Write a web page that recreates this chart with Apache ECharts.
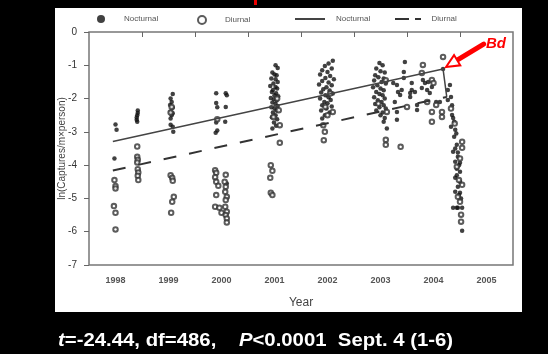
<!DOCTYPE html>
<html>
<head>
<meta charset="utf-8">
<script src="https://cdn.jsdelivr.net/npm/echarts@6/dist/echarts.min.js"></script>
<style>
html, body { margin: 0; padding: 0; background: #000; }
#chart { width: 548px; height: 354px; }
</style>
</head>
<body>
<div id="chart"></div>
<script>
// axis labels / ticks
var yearLabels = [1998, 1999, 2000, 2001, 2002, 2003, 2004, 2005];
var yearTicks = [1998.5, 1999.5, 2000.5, 2001.5, 2002.5, 2003.5, 2004.5];

// nocturnal captures (filled dots), [year, ln value]
var noct1998 = [[1998.0,-2.78],[1998.02,-2.94],[1997.98,-3.8]];
var noct1998b = [[1998.42,-2.36],[1998.42,-2.43],[1998.41,-2.5],[1998.4,-2.57],[1998.4,-2.64],[1998.41,-2.7]];
var noct1999 = [[1999.08,-1.86],[1999.04,-2.0],[1999.06,-2.1],[1999.03,-2.19],[1999.08,-2.27],[1999.04,-2.4],[1999.08,-2.44],[1999.06,-2.5],[1999.04,-2.6],[1999.04,-2.79],[1999.08,-2.85],[1999.09,-3.0]];
var noct1999b = [[1999.9,-1.84],[1999.9,-2.13],[1999.92,-2.26],[1999.9,-2.72],[1999.92,-2.96],[1999.89,-3.03]];
var noct2000 = [[2000.08,-1.84],[2000.1,-1.9],[2000.08,-2.25],[2000.07,-2.7],[2000.1,-4.55]];
var noct2001 = [[2001.02,-1.0],[2001.06,-1.08],[2000.96,-1.22],[2001.0,-1.28],[2001.04,-1.3],[2000.94,-1.4],[2001.02,-1.42],[2001.06,-1.5],[2000.98,-1.55],[2000.92,-1.62],[2001.02,-1.65],[2001.05,-1.7],[2000.97,-1.74],[2000.95,-1.8],[2001.03,-1.84],[2001.0,-1.9],[2001.07,-1.93],[2000.93,-1.98],[2000.99,-2.02],[2001.04,-2.06],[2000.96,-2.12],[2001.02,-2.16],[2001.06,-2.22],[2000.94,-2.26],[2001.0,-2.3],[2001.04,-2.36],[2000.97,-2.42],[2001.02,-2.5],[2000.95,-2.56],[2001.05,-2.62],[2000.99,-2.72],[2001.03,-2.82],[2000.96,-2.9]];
var noct2002 = [[2002.1,-0.86],[2002.02,-0.95],[2001.95,-1.02],[2002.08,-1.1],[2001.9,-1.15],[2002.0,-1.2],[2001.86,-1.28],[2002.05,-1.32],[2001.96,-1.38],[2002.12,-1.42],[2001.9,-1.47],[2002.02,-1.52],[2001.84,-1.58],[2002.08,-1.6],[2001.98,-1.66],[2001.92,-1.72],[2002.04,-1.76],[2001.88,-1.82],[2002.1,-1.85],[2001.96,-1.9],[2002.02,-1.96],[2001.86,-2.0],[2002.06,-2.04],[2001.94,-2.1],[2002.0,-2.14],[2001.9,-2.2],[2002.08,-2.24],[2001.98,-2.3],[2001.88,-2.36],[2002.04,-2.42],[2001.95,-2.5],[2001.9,-2.6]];
var noct2003 = [[2002.98,-0.93],[2003.04,-1.0],[2002.92,-1.1],[2003.0,-1.18],[2003.08,-1.22],[2002.9,-1.3],[2002.96,-1.36],[2003.06,-1.4],[2002.88,-1.46],[2003.02,-1.5],[2003.1,-1.55],[2002.94,-1.6],[2002.86,-1.66],[2003.0,-1.7],[2003.06,-1.75],[2002.92,-1.8],[2002.98,-1.86],[2003.04,-1.9],[2002.88,-1.96],[2003.08,-2.0],[2002.95,-2.05],[2003.02,-2.1],[2002.9,-2.16],[2003.06,-2.2],[2002.98,-2.26],[2003.1,-2.3],[2002.92,-2.36],[2003.04,-2.42],[2003.0,-2.5],[2003.08,-2.58],[2003.06,-2.7],[2003.12,-2.9]];
var noct2004 = [[2003.46,-0.9],[2003.44,-1.2],[2003.44,-1.38],[2003.31,-1.59],[2003.33,-1.8],[2003.37,-1.89],[2003.27,-2.1],[2003.31,-2.4],[2003.31,-2.64],[2003.59,-1.53],[2003.59,-1.74],[2003.65,-1.8],[2003.56,-1.95],[2003.69,-2.19],[2003.69,-2.34],[2003.78,-1.68],[2003.8,-1.44],[2003.84,-1.53],[2003.88,-1.74],[2003.93,-1.83],[2003.97,-1.65],[2004.12,-2.1],[2004.18,-1.11],[2003.24,-1.53],[2003.4,-1.74],[2003.56,-1.83],[2003.9,-1.5],[2004.05,-2.1]];
var noctDecline = [[2004.31,-1.59],[2004.27,-1.74],[2004.33,-1.95],[2004.27,-2.04],[2004.35,-2.2],[2004.35,-2.49],[2004.37,-2.58],[2004.39,-2.7],[2004.33,-2.85],[2004.41,-2.94],[2004.43,-3.05],[2004.39,-3.15],[2004.44,-3.39],[2004.41,-3.5],[2004.37,-3.6],[2004.46,-3.62],[2004.46,-3.75],[2004.41,-3.9],[2004.5,-3.93],[2004.48,-4.0],[2004.44,-4.11],[2004.5,-4.2],[2004.44,-4.3],[2004.41,-4.38],[2004.5,-4.5],[2004.46,-4.65],[2004.41,-4.8],[2004.5,-4.83],[2004.48,-4.9],[2004.52,-5.0],[2004.37,-5.28],[2004.44,-5.28],[2004.46,-5.28],[2004.54,-5.28],[2004.54,-5.97]];

// diurnal captures (open circles)
var diur1998 = [[1997.98,-4.45],[1998.0,-4.63],[1998.0,-4.7],[1997.97,-5.23],[1998.0,-5.43],[1998.0,-5.93]];
var diur1998b = [[1998.41,-3.44],[1998.41,-3.75],[1998.42,-3.84],[1998.41,-3.92],[1998.42,-4.12],[1998.43,-4.22],[1998.42,-4.32],[1998.43,-4.45]];
var diur1999 = [[1999.06,-2.25],[1999.04,-2.42],[1999.04,-4.3],[1999.07,-4.38],[1999.08,-4.47],[1999.1,-4.95],[1999.07,-5.1],[1999.05,-5.43]];
var diur1999b = [[1999.92,-2.62],[1999.88,-4.15],[1999.9,-4.23],[1999.88,-4.36],[1999.9,-4.5],[1999.94,-4.62],[1999.9,-4.9],[1999.88,-5.25],[1999.96,-5.28],[2000.0,-5.43]];
var diur2000 = [[2000.08,-4.29],[2000.06,-4.5],[2000.08,-4.65],[2000.07,-4.8],[2000.1,-4.95],[2000.08,-5.05],[2000.07,-5.25],[2000.1,-5.4],[2000.08,-5.5],[2000.1,-5.6],[2000.1,-5.72]];
var diur2001 = [[2001.05,-2.0],[2001.08,-2.35],[2000.98,-2.55],[2001.1,-2.8],[2001.1,-3.33],[2000.93,-4.0],[2000.96,-4.17],[2000.92,-4.38],[2000.93,-4.83],[2000.96,-4.9]];
var diur2002 = [[2002.05,-1.85],[2001.96,-2.25],[2002.1,-2.4],[2002.0,-2.5],[2001.92,-2.8],[2001.95,-3.0],[2001.93,-3.25]];
var diur2003 = [[2003.1,-1.45],[2002.96,-2.15],[2003.12,-2.4],[2003.1,-3.24],[2003.1,-3.39],[2003.38,-3.45]];
var diur2004 = [[2003.8,-0.99],[2003.78,-1.23],[2003.97,-1.44],[2004.0,-1.53],[2003.88,-2.1],[2003.97,-2.4],[2003.97,-2.7],[2004.05,-2.19],[2004.18,-0.75],[2004.16,-2.4],[2004.16,-2.55],[2003.5,-2.25]];
var diurDecline = [[2004.33,-2.3],[2004.4,-2.75],[2004.54,-3.3],[2004.54,-3.48],[2004.5,-3.8],[2004.44,-4.05],[2004.48,-4.45],[2004.54,-4.59],[2004.46,-4.95],[2004.5,-5.1],[2004.52,-5.49],[2004.52,-5.7]];

// fitted lines
var noctFit = [[1997.95,-3.29],[2004.18,-1.11],[2004.25,-1.95]];
var diurFit = [[1997.95,-4.16],[2004.25,-1.95]];

var nocturnal = [].concat(noct1998, noct1998b, noct1999, noct1999b, noct2000, noct2001, noct2002, noct2003, noct2004, noctDecline);
var diurnal = [].concat(diur1998, diur1998b, diur1999, diur1999b, diur2000, diur2001, diur2002, diur2003, diur2004, diurDecline);

var font = 'Liberation Sans, Arial, sans-serif';
var myChart = echarts.init(document.getElementById('chart'));

function legendAt(item, left, width, height) {
    return {
        data: [item],
        left: left,
        top: 10,
        itemWidth: width,
        itemHeight: height,
        selectedMode: false,
        formatter: function (n) { return n.replace(' fit', ''); },
        textStyle: { fontSize: 8, color: '#555', fontFamily: font, padding: [0, 0, 0, 5] }
    };
}

var option = {
    backgroundColor: '#000',
    animation: false,
    legend: [
        legendAt('Nocturnal', 92, 26, 8),
        legendAt('Diurnal', 192, 26, 8),
        legendAt({ name: 'Nocturnal fit', icon: 'path://M0,0h30v2h-30z' }, 290, 32, 2),
        legendAt({ name: 'Diurnal fit', icon: 'path://M0,0h14v2h-14zM20,0h6v2h-6z' }, 390, 27, 2)
    ],
    grid: {
        left: 89, right: 35, top: 32, bottom: 89,
        show: true, borderColor: '#777', borderWidth: 1.5, backgroundColor: '#fff'
    },
    xAxis: {
        type: 'value',
        min: 1997.5,
        max: 2005.5,
        name: 'Year',
        nameLocation: 'middle',
        nameGap: 32,
        nameTextStyle: { fontSize: 12, color: '#444', fontFamily: font },
        axisLine: { show: false },
        splitLine: { show: false },
        axisTick: { show: true, length: 5, customValues: yearTicks, lineStyle: { color: '#666' } },
        axisLabel: {
            customValues: yearLabels,
            margin: 11,
            fontSize: 9,
            fontWeight: 'bold',
            color: '#555',
            fontFamily: font,
            formatter: function (v) { return String(v); }
        }
    },
    yAxis: {
        type: 'value',
        min: -7,
        max: 0,
        interval: 1,
        name: 'ln(Captures/m×person)',
        nameLocation: 'middle',
        nameGap: 22,
        nameMoveOverlap: false,
        nameTextStyle: { fontSize: 10, color: '#444', fontFamily: font },
        axisLine: { show: false },
        splitLine: { show: false },
        axisTick: { show: true, length: 5, lineStyle: { color: '#666' } },
        axisLabel: { fontSize: 10, color: '#333', margin: 12, fontFamily: font }
    },
    series: [
        {
            name: 'Nocturnal', type: 'scatter', data: nocturnal,
            symbol: 'circle', symbolSize: 4.5,
            itemStyle: { color: '#111' }
        },
        {
            name: 'Diurnal', type: 'scatter', data: diurnal,
            symbol: 'emptyCircle', symbolSize: 4.5,
            itemStyle: { color: '#333', borderWidth: 1.2 }
        },
        {
            name: 'Nocturnal fit', type: 'line', data: noctFit,
            symbol: 'none', z: 3,
            itemStyle: { color: '#444' },
            lineStyle: { color: '#444', width: 1.5 }
        },
        {
            name: 'Diurnal fit', type: 'line', data: diurFit,
            symbol: 'none', z: 3,
            itemStyle: { color: '#333' },
            lineStyle: { color: '#333', width: 2, type: [13, 13] }
        }
    ]
};
myChart.setOption(option);

// background panel, caption and the "Bd" arrow pointing at the end of the nocturnal fit
var tip = myChart.convertToPixel({ gridIndex: 0 }, noctFit[1]);
tip = [tip[0] + 3, tip[1] - 2];
var ux = 0.855, uy = -0.518, head = 13, half = 6;
var bx = tip[0] + ux * head, by = tip[1] + uy * head;
myChart.setOption({
    graphic: [
        { type: 'rect', left: 55, top: 8, z: -10, shape: { width: 467, height: 304 }, style: { fill: '#fff' } },
        { type: 'rect', left: 254, top: 0, shape: { width: 3, height: 5 }, style: { fill: '#e00' } },
        {
            type: 'text', left: 58, top: 332, scaleX: 1.13,
            style: {
                text: '{i|t}{b|=-24.44, df=486,    }{i|P}{b|<0.0001  Sept. 4 (1-6)}',
                rich: {
                    i: { fontStyle: 'italic', fontWeight: 'bold', fontSize: 18, fill: '#fff', fontFamily: font },
                    b: { fontWeight: 'bold', fontSize: 18, fill: '#fff', fontFamily: font }
                }
            }
        },
        {
            type: 'line', z: 100,
            shape: { x1: bx, y1: by, x2: bx + ux * 31, y2: by + uy * 31 },
            style: { stroke: '#f00', lineWidth: 5, lineCap: 'round' }
        },
        {
            type: 'polygon', z: 100,
            shape: { points: [tip, [bx - uy * half, by + ux * half], [bx + uy * half, by - ux * half]] },
            style: { fill: '#fff', stroke: '#f00', lineWidth: 2 }
        },
        {
            type: 'text', z: 100, left: 486, top: 36,
            style: { text: 'Bd', fill: '#f00', fontSize: 15, fontWeight: 'bold', fontStyle: 'italic', fontFamily: font }
        }
    ]
});

window.addEventListener('resize', function () {
    myChart.resize();
});
</script>
</body>
</html>
